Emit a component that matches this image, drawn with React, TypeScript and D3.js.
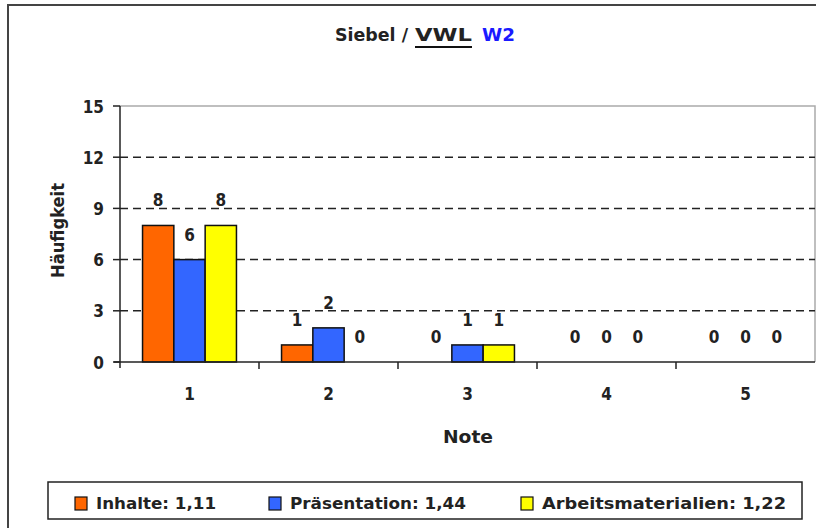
import React from "react";
import * as d3 from "d3";

const categories = ["1", "2", "3", "4", "5"];
const seriesNames = ["Inhalte: 1,11", "Präsentation: 1,44", "Arbeitsmaterialien: 1,22"];
const inhalte = [8, 1, 0, 0, 0];
const praesentation = [6, 2, 1, 0, 0];
const arbeitsmaterialien = [8, 0, 1, 0, 0];
const yTicks = [0, 3, 6, 9, 12, 15];
const colors = ["#ff6600", "#3366ff", "#ffff00"];

const FONT = "'DejaVu Sans Condensed', 'DejaVu Sans', sans-serif";

export default function App() {
  const W = 816, H = 528;
  const left = 120, right = 815, top = 106, bottom = 362;
  const series = [inhalte, praesentation, arbeitsmaterialien];
  const x = d3.scaleBand<string>().domain(categories).range([left, right]).padding(0);
  const inner = d3.scaleBand<number>().domain([0, 1, 2]).range([0, x.bandwidth()]).paddingOuter(0.72).paddingInner(0);
  const y = d3.scaleLinear().domain([0, 15]).range([bottom, top]);
  const legendX = [75, 269, 521];
  const legendLen = [120, 176, 244];

  return (
    <svg width={W} height={H} style={{ position: "absolute", left: 0, top: 0 }} fontFamily={FONT}>
      <rect x={0} y={0} width={W} height={H} fill="#fff" />
      <path d={`M8,${H}V5H${W}`} fill="none" stroke="#444" strokeWidth={2} />
      {/* title */}
      <g fontSize={17} fontWeight="bold" fill="#222">
        <text x={335} y={41} textLength={73} lengthAdjust="spacingAndGlyphs">Siebel /</text>
        <text x={415} y={41} textLength={57} lengthAdjust="spacingAndGlyphs">VWL</text>
        <text x={482} y={41} textLength={33} lengthAdjust="spacingAndGlyphs" fill="#1a1aff">W2</text>
      </g>
      <line x1={415} x2={472} y1={47} y2={47} stroke="#111" strokeWidth={2} />
      {/* plot border */}
      <path d={`M${left},${top}H${right}V${bottom}`} fill="none" stroke="#aaa" strokeWidth={1.5} />
      {/* grid */}
      {yTicks.filter(t => t > 0 && t < 15).map(t => (
        <line key={t} x1={left} x2={right} y1={y(t)} y2={y(t)} stroke="#222" strokeWidth={1.5} strokeDasharray="8,5" />
      ))}
      {/* bars */}
      {categories.map((c, ci) =>
        series.map((s, si) => {
          const bx = (x(c) as number) + (inner(si) as number);
          const v = s[ci];
          return (
            <g key={`${ci}-${si}`}>
              {v > 0 && (
                <rect x={bx} y={y(v)} width={inner.bandwidth()} height={y(0) - y(v)} fill={colors[si]} stroke="#111" strokeWidth={1.5} />
              )}
              <text x={bx + inner.bandwidth() / 2} y={y(v) - 19} textAnchor="middle" fontSize={17} fontWeight="bold" fill="#222">{v}</text>
            </g>
          );
        })
      )}
      {/* axes */}
      <line x1={left} x2={left} y1={top} y2={bottom + 6} stroke="#222" strokeWidth={1.5} />
      <line x1={left - 6} x2={right} y1={bottom} y2={bottom} stroke="#222" strokeWidth={1.5} />
      {yTicks.map(t => (
        <g key={t}>
          <line x1={left - 7} x2={left} y1={y(t)} y2={y(t)} stroke="#222" strokeWidth={1.5} />
          <text x={left - 16} y={y(t) + 6.5} textAnchor="end" fontSize={17} fontWeight="bold" fill="#222">{t}</text>
        </g>
      ))}
      {categories.map((c, i) => (
        <g key={c}>
          {i > 0 && <line x1={x(c)} x2={x(c)} y1={bottom} y2={bottom + 7} stroke="#222" strokeWidth={1.5} />}
          <text x={(x(c) as number) + x.bandwidth() / 2} y={400} textAnchor="middle" fontSize={17} fontWeight="bold" fill="#222">{c}</text>
        </g>
      ))}
      <text x={443} y={443} textLength={50} lengthAdjust="spacingAndGlyphs" fontSize={17} fontWeight="bold" fill="#222">Note</text>
      <text transform={`translate(64,278) rotate(-90)`} textLength={95} lengthAdjust="spacingAndGlyphs" fontSize={17} fontWeight="bold" fill="#222">Häufigkeit</text>
      {/* legend */}
      <rect x={48} y={482} width={754} height={37} fill="#fff" stroke="#222" strokeWidth={1.5} />
      {seriesNames.map((n, i) => (
        <g key={n}>
          <rect x={legendX[i]} y={497} width={12} height={13} fill={colors[i]} stroke="#111" strokeWidth={1.2} />
          <text x={legendX[i] + 21} y={509} textLength={legendLen[i]} lengthAdjust="spacingAndGlyphs" fontSize={16} fontWeight="bold" fill="#222">{n}</text>
        </g>
      ))}
    </svg>
  );
}
